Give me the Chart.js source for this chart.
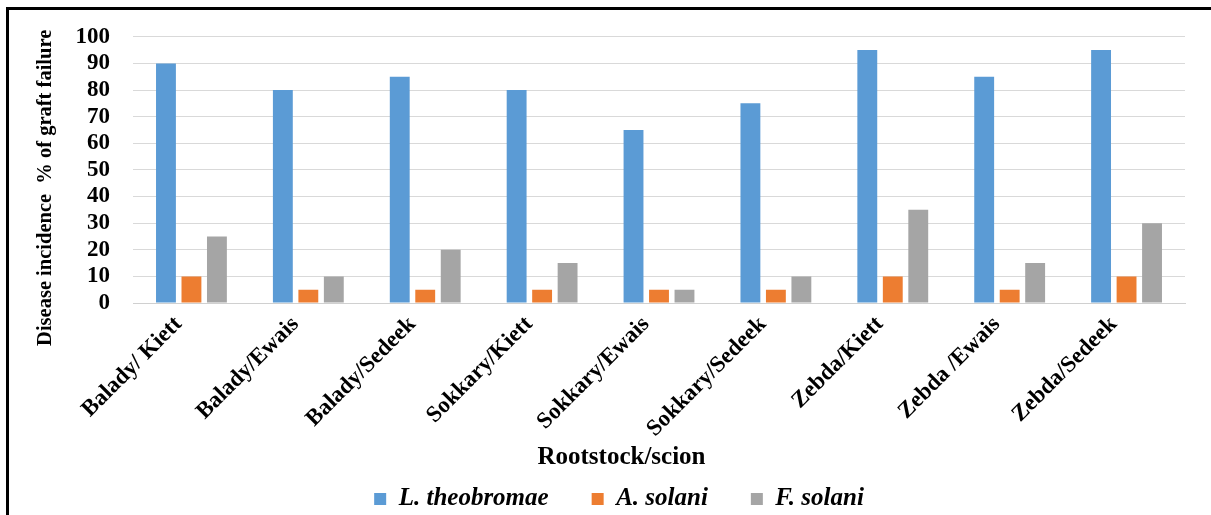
<!DOCTYPE html>
<html>
<head>
<meta charset="utf-8">
<script src="https://cdn.jsdelivr.net/npm/chart.js@4.4.1/dist/chart.umd.min.js"></script>
<style>
  html, body { margin: 0; padding: 0; background: #fff; overflow: hidden; }
  #wrap { position: relative; width: 1211px; height: 515px; }
  #frame { position: absolute; left: 6px; top: 7px; width: 1400px; height: 700px;
           border-left: 3px solid #000; border-top: 3px solid #000; pointer-events: none; }
  canvas { position: absolute; left: 0; top: 0; }
</style>
</head>
<body>
<div id="wrap">
  <canvas id="c" width="1211" height="515"></canvas>
  <div id="frame"></div>
</div>
<script>
const categories = ["Balady/ Kiett", "Balady/Ewais", "Balady/Sedeek", "Sokkary/Kiett", "Sokkary/Ewais", "Sokkary/Sedeek", "Zebda/Kiett", "Zebda /Ewais", "Zebda/Sedeek"];
const seriesNames = ["L. theobromae", "A. solani", "F. solani"];
const lTheobromae = [90, 80, 85, 80, 65, 75, 95, 85, 95];
const aSolani = [10, 5, 5, 5, 5, 5, 10, 5, 10];
const fSolani = [25, 10, 20, 15, 5, 10, 35, 15, 30];
const yTicks = [0, 10, 20, 30, 40, 50, 60, 70, 80, 90, 100];
const yTitle = "Disease incidence  % of graft failure";
const xTitle = "Rootstock/scion";

const SERIF = "'Liberation Serif', 'Times New Roman', serif";
const PLOT = { left: 133, right: 1185, top: 33, bottom: 303 };
const PAD_LEFT = 28;
const LEG_PAD = 43;
const LEG_FONT = 25;
const LEG_LAYOUT_H = 40;
const LEG_CENTER = { x: 619, y: 499 };

const placeLegend = {
  id: 'placeLegend',
  beforeLayout(chart) {
    const L = chart.legend;
    if (L && !L._fixedFit) {
      const orig = L.fit;
      L.fit = function () { orig.call(this); this._realHeight = this.height; this.height = LEG_LAYOUT_H; };
      L._fixedFit = true;
    }
  },
  afterLayout(chart) {
    const L = chart.legend;
    if (!L) return;
    const h = (L._realHeight || (L.bottom - L.top));
    const dx = LEG_CENTER.x - (L.left + L.right) / 2;
    L.left += dx; L.right += dx;
    L.top = LEG_CENTER.y - LEG_PAD - LEG_FONT / 2;
    L.bottom = L.top + h + 10;
  }
};

new Chart(document.getElementById('c'), {
  type: 'bar',
  data: {
    labels: categories,
    datasets: [
      { label: seriesNames[0], data: lTheobromae, backgroundColor: '#5B9BD5' },
      { label: seriesNames[1], data: aSolani, backgroundColor: '#ED7D31' },
      { label: seriesNames[2], data: fSolani, backgroundColor: '#A5A5A5' }
    ]
  },
  options: {
    responsive: false,
    animation: false,
    categoryPercentage: 0.654,
    barPercentage: 0.78,
    layout: { padding: { left: PAD_LEFT, right: 1211 - PLOT.right, top: PLOT.top, bottom: 0 } },
    scales: {
      x: {
        grid: { display: false, drawTicks: false },
        border: { display: true, color: '#d0d0d0', width: 1 },
        ticks: {
          autoSkip: false, maxRotation: 45, minRotation: 45, padding: 8, labelOffset: -13,
          color: '#000', font: { family: SERIF, size: 23, weight: 'bold' }
        },
        title: {
          display: true,
          text: xTitle + '\u00a0'.repeat(12),
          color: '#000', padding: { top: 0, bottom: 2 },
          font: { family: SERIF, size: 25, weight: 'bold' }
        },
        afterFit(s) {
          s.height = 515 - PLOT.bottom - LEG_LAYOUT_H;
        }
      },
      y: {
        min: 0, max: 100,
        afterBuildTicks(s) { s.ticks = yTicks.map(v => ({ value: v })); },
        grid: { color: '#d9d9d9', lineWidth: 1, drawTicks: false },
        border: { display: false },
        ticks: {
          autoSkip: false, padding: 23, color: '#000',
          font: { family: SERIF, size: 23, weight: 'bold' }
        },
        title: {
          display: true, text: yTitle + '\u00a0'.repeat(7),
          color: '#000', padding: { top: 5, bottom: 0 },
          font: { family: SERIF, size: 20.5, weight: 'bold' }
        },
        afterFit(s) { s.width = PLOT.left - PAD_LEFT; }
      }
    },
    plugins: {
      legend: {
        display: true, position: 'bottom',
        labels: {
          boxWidth: 12, boxHeight: 12, padding: LEG_PAD, color: '#000',
          font: { family: SERIF, size: LEG_FONT, weight: 'bold', style: 'italic' }
        }
      },
      tooltip: { enabled: false }
    }
  },
  plugins: [placeLegend]
});
</script>
</body>
</html>
